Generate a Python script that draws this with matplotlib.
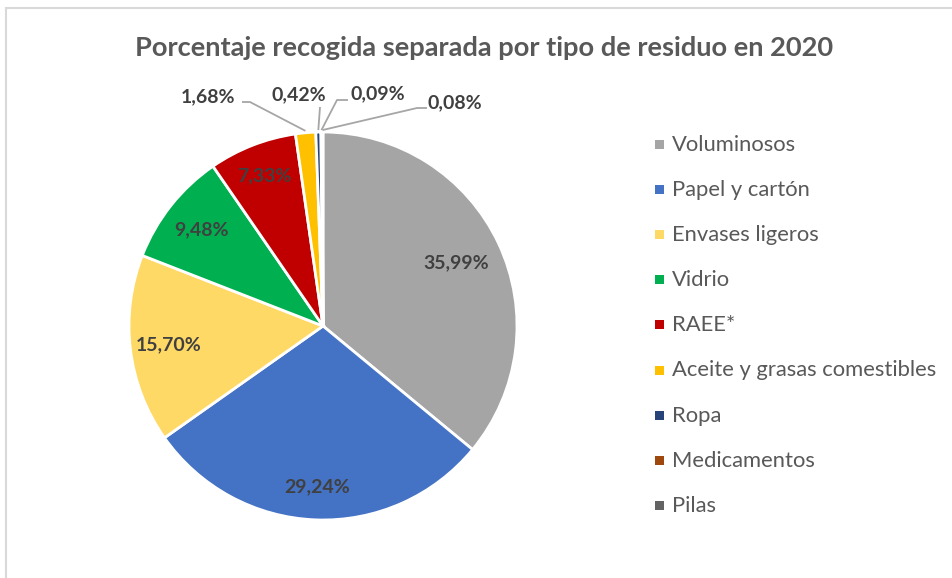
import matplotlib
matplotlib.use("Agg")
import matplotlib.pyplot as plt
import numpy as np
from matplotlib.patches import Rectangle

categories = ["Voluminosos", "Papel y cartón", "Envases ligeros", "Vidrio", "RAEE*",
              "Aceite y grasas comestibles", "Ropa", "Medicamentos", "Pilas"]
values = [35.99, 29.24, 15.70, 9.48, 7.33, 1.68, 0.42, 0.09, 0.08]
colors = ["#A5A5A5", "#4472C4", "#FFD966", "#00B050", "#C00000",
          "#FFC000", "#264478", "#9E480E", "#636363"]
title = "Porcentaje recogida separada por tipo de residuo en 2020"

FONT = "Lato"
W, H = 953, 578
fig = plt.figure(figsize=(W / 100, H / 100), dpi=100)
fig.patch.set_facecolor("white")

# chart border
fig.patches.append(Rectangle((6 / W, -0.05), 1.2, (H - 8) / H + 0.05, transform=fig.transFigure,
                             fill=False, edgecolor="#D9D9D9", linewidth=1.5))

cx, cy, R = 323, 326, 194
half = 200
ax = fig.add_axes([(cx - half) / W, (H - cy - half) / H, 2 * half / W, 2 * half / H])
lim = half / R
ax.axis("off")

wedges, _ = ax.pie(values, colors=colors, startangle=90, counterclock=False,
                   radius=1.0, wedgeprops=dict(edgecolor="white", linewidth=2.0),
                   normalize=True)
ax.set_xlim(-lim, lim)
ax.set_ylim(-lim, lim)
ax.set_aspect("auto")

def fmt(v):
    return f"{v:.2f}".replace(".", ",") + "%"

label_color = "#404040"
fs_lab = 14
inside_dist = [0.76, 0.83, 0.80, 0.80, 0.83]
for i, w in enumerate(wedges[:5]):
    ang = np.deg2rad((w.theta1 + w.theta2) / 2)
    d = inside_dist[i]
    ax.text(d * np.cos(ang), d * np.sin(ang), fmt(values[i]), ha="center", va="center",
            fontsize=fs_lab, fontweight="bold", color=label_color, family=FONT)

# outside labels: (text position, elbow points) in pixels
px = lambda x: (x - cx) / R
py = lambda y: (cy - y) / R
outside = {
    5: ((208, 97), [(242, 102), (250, 102)]),
    6: ((299, 95), [(320, 107)]),
    7: ((378, 94), [(348, 100), (337, 100)]),
    8: ((455, 103), [(427, 108), (417, 108)]),
}
for i, ((tx, ty), elbows) in outside.items():
    w = wedges[i]
    ang = np.deg2rad((w.theta1 + w.theta2) / 2)
    ax.text(px(tx), py(ty), fmt(values[i]), ha="center", va="center",
            fontsize=fs_lab, fontweight="bold", color=label_color, family=FONT,
            clip_on=False)
    pts = [(px(x), py(y)) for x, y in elbows] + [(1.01 * np.cos(ang), 1.01 * np.sin(ang))]
    xs, ys = zip(*pts)
    ax.plot(xs, ys, color="#A6A6A6", linewidth=1.3, clip_on=False, solid_capstyle="butt")

fig.text(484 / W, 1 - 48 / H, title, ha="center", va="center", fontsize=19.6,
         fontweight="bold", color="#595959", family=FONT)

# legend
y0, dy = 145, 45.1
for i, (c, lab) in enumerate(zip(colors, categories)):
    y = y0 + i * dy
    fig.patches.append(Rectangle((655 / W, 1 - (y + 4) / H), 9 / W, 9 / H,
                                 transform=fig.transFigure, facecolor=c, edgecolor="none"))
    fig.text(672 / W, 1 - y / H, lab, ha="left", va="center", fontsize=15.8,
             color="#595959", family=FONT)

fig.savefig("out.png", dpi=100)
